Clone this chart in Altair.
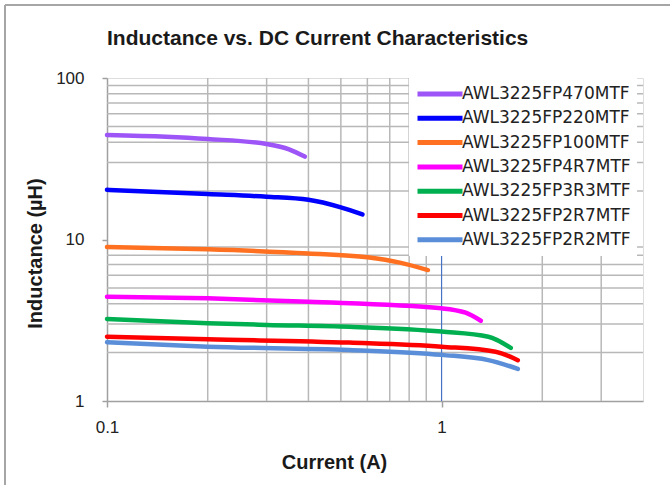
import altair as alt
import pandas as pd

series_names = ["AWL3225FP470MTF", "AWL3225FP220MTF", "AWL3225FP100MTF",
                "AWL3225FP4R7MTF", "AWL3225FP3R3MTF", "AWL3225FP2R7MTF",
                "AWL3225FP2R2MTF"]
series_colors = ["#9D55F7", "#0000FF", "#FF7020", "#FF00FF", "#00B050",
                 "#FF0000", "#5A8ED8"]

i_470 = [0.1, 0.15, 0.2, 0.3, 0.35, 0.39]
l_470 = [44.4, 43.3, 41.9, 39.0, 36.2, 32.6]
i_220 = [0.1, 0.2, 0.3, 0.4, 0.5, 0.58]
l_220 = [20.3, 19.1, 18.4, 17.6, 15.8, 14.3]
i_100 = [0.1, 0.2, 0.4, 0.6, 0.75, 0.91]
l_100 = [9.0, 8.7, 8.2, 7.76, 7.19, 6.47]
i_4r7 = [0.1, 0.2, 0.4, 1.0, 1.18, 1.31]
l_4r7 = [4.42, 4.32, 4.12, 3.75, 3.52, 3.14]
i_3r3 = [0.1, 0.2, 0.3, 0.53, 1.0, 1.38, 1.61]
l_3r3 = [3.22, 3.03, 2.96, 2.88, 2.69, 2.50, 2.13]
i_2r7 = [0.1, 0.2, 0.53, 1.0, 1.45, 1.69]
l_2r7 = [2.50, 2.41, 2.30, 2.17, 2.02, 1.79]
i_2r2 = [0.1, 0.2, 0.53, 1.0, 1.38, 1.69]
l_2r2 = [2.31, 2.17, 2.07, 1.93, 1.79, 1.58]

x_ticks = [0.1, 1]
y_ticks = [1, 10, 100]
grid_x = [0.2, 0.3, 0.4, 0.5, 0.6, 0.7, 0.8, 0.9, 2, 3]
grid_y = [2, 3, 4, 5, 6, 7, 8, 9, 20, 30, 40, 50, 60, 70, 80, 90]
marker_x = [1]

currents = [i_470, i_220, i_100, i_4r7, i_3r3, i_2r7, i_2r2]
inductances = [l_470, l_220, l_100, l_4r7, l_3r3, l_2r7, l_2r2]

rows = []
for name, xs, ys in zip(series_names, currents, inductances):
    for k, (xv, yv) in enumerate(zip(xs, ys)):
        rows.append({"part": name, "I": xv, "L": yv, "order": k})
df = pd.DataFrame(rows)

xscale = alt.Scale(type="log", domain=[0.1, 4], nice=False)
yscale = alt.Scale(type="log", domain=[1, 100], nice=False)

gx = alt.Chart(pd.DataFrame({"g": grid_x})).mark_rule(
    color="#B8B8B8", strokeWidth=1.5).encode(
    x=alt.X("g:Q", scale=xscale))
gy = alt.Chart(pd.DataFrame({"g": grid_y})).mark_rule(
    color="#B8B8B8", strokeWidth=1.5).encode(
    y=alt.Y("g:Q", scale=yscale))
gmark = alt.Chart(pd.DataFrame({"g": marker_x})).mark_rule(
    color="#4472C4", strokeWidth=1.2).encode(
    x=alt.X("g:Q", scale=xscale))

lines = alt.Chart(df).mark_line(
    strokeWidth=4.5, interpolate="monotone", strokeCap="round",
    strokeJoin="round").encode(
    x=alt.X("I:Q", scale=xscale,
            axis=alt.Axis(values=x_ticks, title="Current (A)", grid=False,
                          format="~g", tickSize=6, labelPadding=12,
                          labelFlush=False,
                          labelFont="Liberation Sans", labelFontSize=17,
                          labelColor="#222222", titleFont="Liberation Sans",
                          titleFontSize=20, titleFontWeight="bold",
                          titleColor="#1A1A1A", titleX=227, titleY=61,
                          titleBaseline="middle", domainColor="#A0A0A0",
                          domainWidth=1.5, tickColor="#A0A0A0",
                          tickWidth=1.5)),
    y=alt.Y("L:Q", scale=yscale,
            axis=alt.Axis(values=y_ticks, title="Inductance (µH)", grid=False,
                          format="~g", tickSize=5, labelPadding=18,
                          labelFlush=False,
                          labelFont="Liberation Sans", labelFontSize=17,
                          labelColor="#222222", titleFont="Liberation Sans",
                          titleFontSize=20, titleFontWeight="bold",
                          titleColor="#1A1A1A", titleX=-72, titleY=175,
                          titleBaseline="middle", domainColor="#A0A0A0",
                          domainWidth=1.5, tickColor="#A0A0A0",
                          tickWidth=1.5)),
    color=alt.Color("part:N",
                    scale=alt.Scale(domain=series_names, range=series_colors),
                    legend=alt.Legend(title=None, orient="none", legendX=302,
                                      legendY=0, fillColor="white",
                                      padding=6, symbolType="M-1,0H5",
                                      symbolSize=225, symbolStrokeWidth=5,
                                      labelFont="DejaVu Sans",
                                      labelFontSize=17, labelColor="#222222",
                                      labelOffset=27, rowPadding=4.3,
                                      labelLimit=300)),
    order="order:Q",
)

frame_top = alt.Chart(pd.DataFrame({"a": [0]})).mark_rule(
    color="#A6A6A6", strokeWidth=2).encode(
    x=alt.value(-102), x2=alt.value(563), y=alt.value(-73))
frame_left = alt.Chart(pd.DataFrame({"a": [0]})).mark_rule(
    color="#A6A6A6", strokeWidth=2).encode(
    x=alt.value(-102), y=alt.value(-73), y2=alt.value(407))

chart = alt.layer(gx, gy, gmark, lines, frame_top, frame_left).properties(
    width=536, height=323,
    title=alt.TitleParams("Inductance vs. DC Current Characteristics",
                          anchor="start", frame="group", offset=0, dy=62,
                          baseline="alphabetic",
                          font="Liberation Sans", fontSize=21,
                          fontWeight="bold", color="#1A1A1A"),
    autosize=alt.AutoSizeParams(type="none"),
    padding={"left": 107, "top": 78, "right": 27, "bottom": 84},
).configure_view(stroke="#B8B8B8", strokeWidth=1.5).configure(
    background="white")

chart.save("out.html", embed_options={"renderer": "svg", "actions": False})
